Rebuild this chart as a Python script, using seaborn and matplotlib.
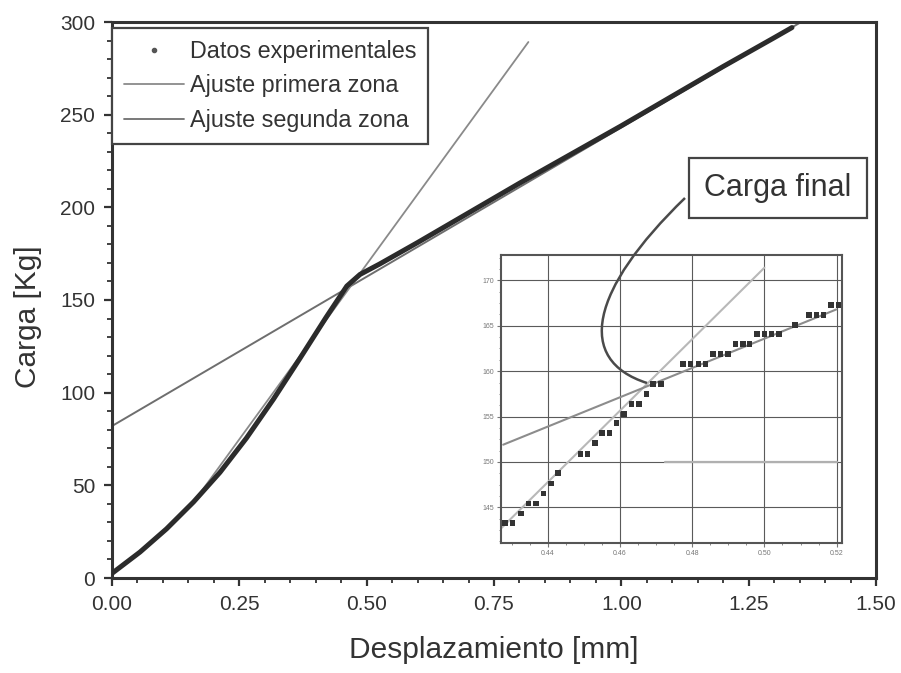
import numpy as np
import pandas as pd
import matplotlib
matplotlib.use("Agg")
import matplotlib.pyplot as plt
import seaborn as sns
from matplotlib.path import Path
from matplotlib.patches import PathPatch
from matplotlib.lines import Line2D
from matplotlib.ticker import MultipleLocator, FixedLocator

# ---------------- data ----------------
# main experimental curve (Desplazamiento [mm], Carga [Kg])
disp_mm = [0.0, 0.055, 0.107, 0.16, 0.212, 0.264, 0.317, 0.369, 0.42, 0.461,
           0.487, 0.526, 0.6, 0.7, 0.8, 0.9, 1.0, 1.1, 1.2, 1.3, 1.335]
load_kg = [2.5, 14.0, 26.5, 41.0, 57.0, 75.5, 96.5, 118.5, 140.5, 157.5,
           163.8, 169.5, 181.0, 197.0, 213.0, 228.5, 244.0, 260.0, 276.0, 291.5, 297.0]

# fitted lines (end points)
fit1_x = [0.163, 0.8175]
fit1_y = [42.0, 289.2]
fit2_x = [0.0, 1.35]
fit2_y = [82.0, 299.5]

# zoomed region (inset) experimental points
inset_x = [0.4282, 0.4303, 0.4326, 0.4347, 0.4367, 0.4388, 0.4409, 0.4428,
           0.4491, 0.4510, 0.4531, 0.4551, 0.4571, 0.4591, 0.4611, 0.4632,
           0.4653, 0.4674, 0.4692, 0.4713, 0.4775, 0.4795, 0.4817, 0.4837,
           0.4858, 0.4878, 0.4899, 0.4920, 0.4940, 0.4959, 0.4980, 0.5000,
           0.5020, 0.5040, 0.5084, 0.5123, 0.5144, 0.5164, 0.5185, 0.5205, 0.5225]
inset_y = [143.3, 143.3, 144.3, 145.4, 145.4, 146.5, 147.6, 148.75,
           150.9, 150.9, 152.06, 153.2, 153.2, 154.3, 155.3, 156.4,
           156.4, 157.5, 158.6, 158.6, 160.8, 160.8, 160.8, 160.8,
           161.9, 161.9, 161.9, 163.0, 163.0, 163.0, 164.1, 164.1,
           164.1, 164.1, 165.1, 166.2, 166.2, 166.2, 167.3, 167.3, 167.3]
inset_fit1_x = [0.4259, 0.5000]
inset_fit1_y = [142.2, 171.4]
inset_fit2_x = [0.4277, 0.5199]
inset_fit2_y = [151.9, 166.8]
inset_ref_x = [0.4724, 0.5200]
inset_ref_y = [150.0, 150.0]

x_ticks = [0.00, 0.25, 0.50, 0.75, 1.00, 1.25, 1.50]
y_ticks = [0, 50, 100, 150, 200, 250, 300]
inset_xticks = [0.44, 0.46, 0.48, 0.50, 0.52]
inset_yticks = [145, 150, 155, 160, 165, 170]

legend_labels = ["Datos experimentales", "Ajuste primera zona", "Ajuste segunda zona"]

# ---------------- figure ----------------
sns.set_theme(style="ticks")
plt.rcParams['font.family'] = ['Liberation Sans', 'DejaVu Sans']

W, H = 901, 673
fig = plt.figure(figsize=(W / 100, H / 100), dpi=100)
fig.patch.set_facecolor("white")


def fx(px):
    return px / W


def fy(py):
    return 1 - py / H


ax = fig.add_axes([fx(112), fy(578), (876 - 112) / W, (578 - 22) / H])
ax.set_facecolor("white")

main_df = pd.DataFrame({"x": disp_mm, "y": load_kg})
f1_df = pd.DataFrame({"x": fit1_x, "y": fit1_y})
f2_df = pd.DataFrame({"x": fit2_x, "y": fit2_y})

sns.lineplot(data=f2_df, x="x", y="y", ax=ax, color="#6e6e6e", lw=1.4, sort=False, zorder=2)
sns.lineplot(data=f1_df, x="x", y="y", ax=ax, color="#8a8a8a", lw=1.3, sort=False, zorder=2)
sns.lineplot(data=main_df, x="x", y="y", ax=ax, color="#2b2b2b", lw=3.6, sort=False, zorder=3,
             solid_capstyle="round", solid_joinstyle="round")

ax.set_xlim(0, 1.5)
ax.set_ylim(0, 300)
ax.xaxis.set_major_locator(FixedLocator(x_ticks))
ax.yaxis.set_major_locator(FixedLocator(y_ticks))
ax.set_xticklabels([f"{v:.2f}" for v in x_ticks])
ax.set_yticklabels([str(v) for v in y_ticks])
ax.xaxis.set_minor_locator(MultipleLocator(0.05))
ax.yaxis.set_minor_locator(MultipleLocator(10))
ax.tick_params(which="major", direction="out", length=6, width=1.6, labelsize=15,
               colors="#333333", pad=6)
ax.tick_params(which="minor", direction="out", length=3.5, width=1.3, colors="#333333")
for s in ax.spines.values():
    s.set_visible(True)
    s.set_color("#333333")
    s.set_linewidth(2.2)

ax.set_xlabel("Desplazamiento [mm]", fontsize=21.5, color="#333333", labelpad=16)
ax.set_ylabel("Carga [Kg]", fontsize=21.5, color="#333333")
ax.yaxis.set_label_coords(-0.092, 0.47)

handles = [
    Line2D([], [], ls="none", marker="o", ms=3, color="#555555"),
    Line2D([], [], color="#8a8a8a", lw=1.3),
    Line2D([], [], color="#6e6e6e", lw=1.3),
]
leg = ax.legend(handles, legend_labels, loc="upper left", bbox_to_anchor=(0.0, 0.989),
                borderaxespad=0, fontsize=16.8, frameon=True, fancybox=False,
                edgecolor="#444444", framealpha=1, handlelength=2.6, handletextpad=0.25,
                labelspacing=0.5, borderpad=0.5)
leg.get_frame().set_linewidth(1.6)
for t in leg.get_texts():
    t.set_color("#333333")

# ---------------- inset ----------------
axi = fig.add_axes([fx(500.7), fy(542.7), (841.7 - 500.7) / W, (542.7 - 255) / H])
axi.set_facecolor("white")
ins_df = pd.DataFrame({"x": inset_x, "y": inset_y})
sns.lineplot(x=inset_ref_x, y=inset_ref_y, ax=axi, color="#b0b0b0", lw=1.6, zorder=2)
sns.lineplot(x=inset_fit1_x, y=inset_fit1_y, ax=axi, color="#b8b8b8", lw=1.5, zorder=2)
sns.lineplot(x=inset_fit2_x, y=inset_fit2_y, ax=axi, color="#8c8c8c", lw=1.5, zorder=2)
sns.scatterplot(data=ins_df, x="x", y="y", ax=axi, color="#333333", s=16, marker="s",
                edgecolor="none", zorder=3)
axi.set_xlim(0.427, 0.5214)
axi.set_ylim(141.1, 172.8)
axi.xaxis.set_major_locator(FixedLocator(inset_xticks))
axi.yaxis.set_major_locator(FixedLocator(inset_yticks))
axi.set_xticklabels([f"{v:.2f}" for v in inset_xticks])
axi.set_yticklabels([str(v) for v in inset_yticks])
axi.xaxis.set_minor_locator(MultipleLocator(0.005))
axi.yaxis.set_minor_locator(MultipleLocator(1.25))
axi.tick_params(which="major", direction="out", length=3, width=0.8, labelsize=5,
                colors="#777777", pad=2)
axi.tick_params(which="minor", direction="out", length=1.5, width=0.6, colors="#777777")
axi.grid(True, which="major", color="#5a5a5a", lw=0.8)
axi.set_axisbelow(True)
axi.set_xlabel("")
axi.set_ylabel("")
for s in axi.spines.values():
    s.set_color("#555555")
    s.set_linewidth(1.5)

# ---------------- annotation ----------------
fig.text(fx(778), fy(188), "Carga final", fontsize=22, color="#333333",
         ha="center", va="center", zorder=10,
         bbox=dict(boxstyle="square,pad=0.5", facecolor="white", edgecolor="#444444", lw=1.6))

pts = [(685, 198), (590, 290), (575, 360), (647, 383)]
verts = [(fx(px), fy(py)) for px, py in pts]
curve = PathPatch(Path(verts, [Path.MOVETO, Path.CURVE4, Path.CURVE4, Path.CURVE4]),
                  transform=fig.transFigure, facecolor="none", edgecolor="#4a4a4a",
                  lw=1.8, zorder=10)
fig.add_artist(curve)

fig.savefig("out.png", dpi=100, facecolor="white")
